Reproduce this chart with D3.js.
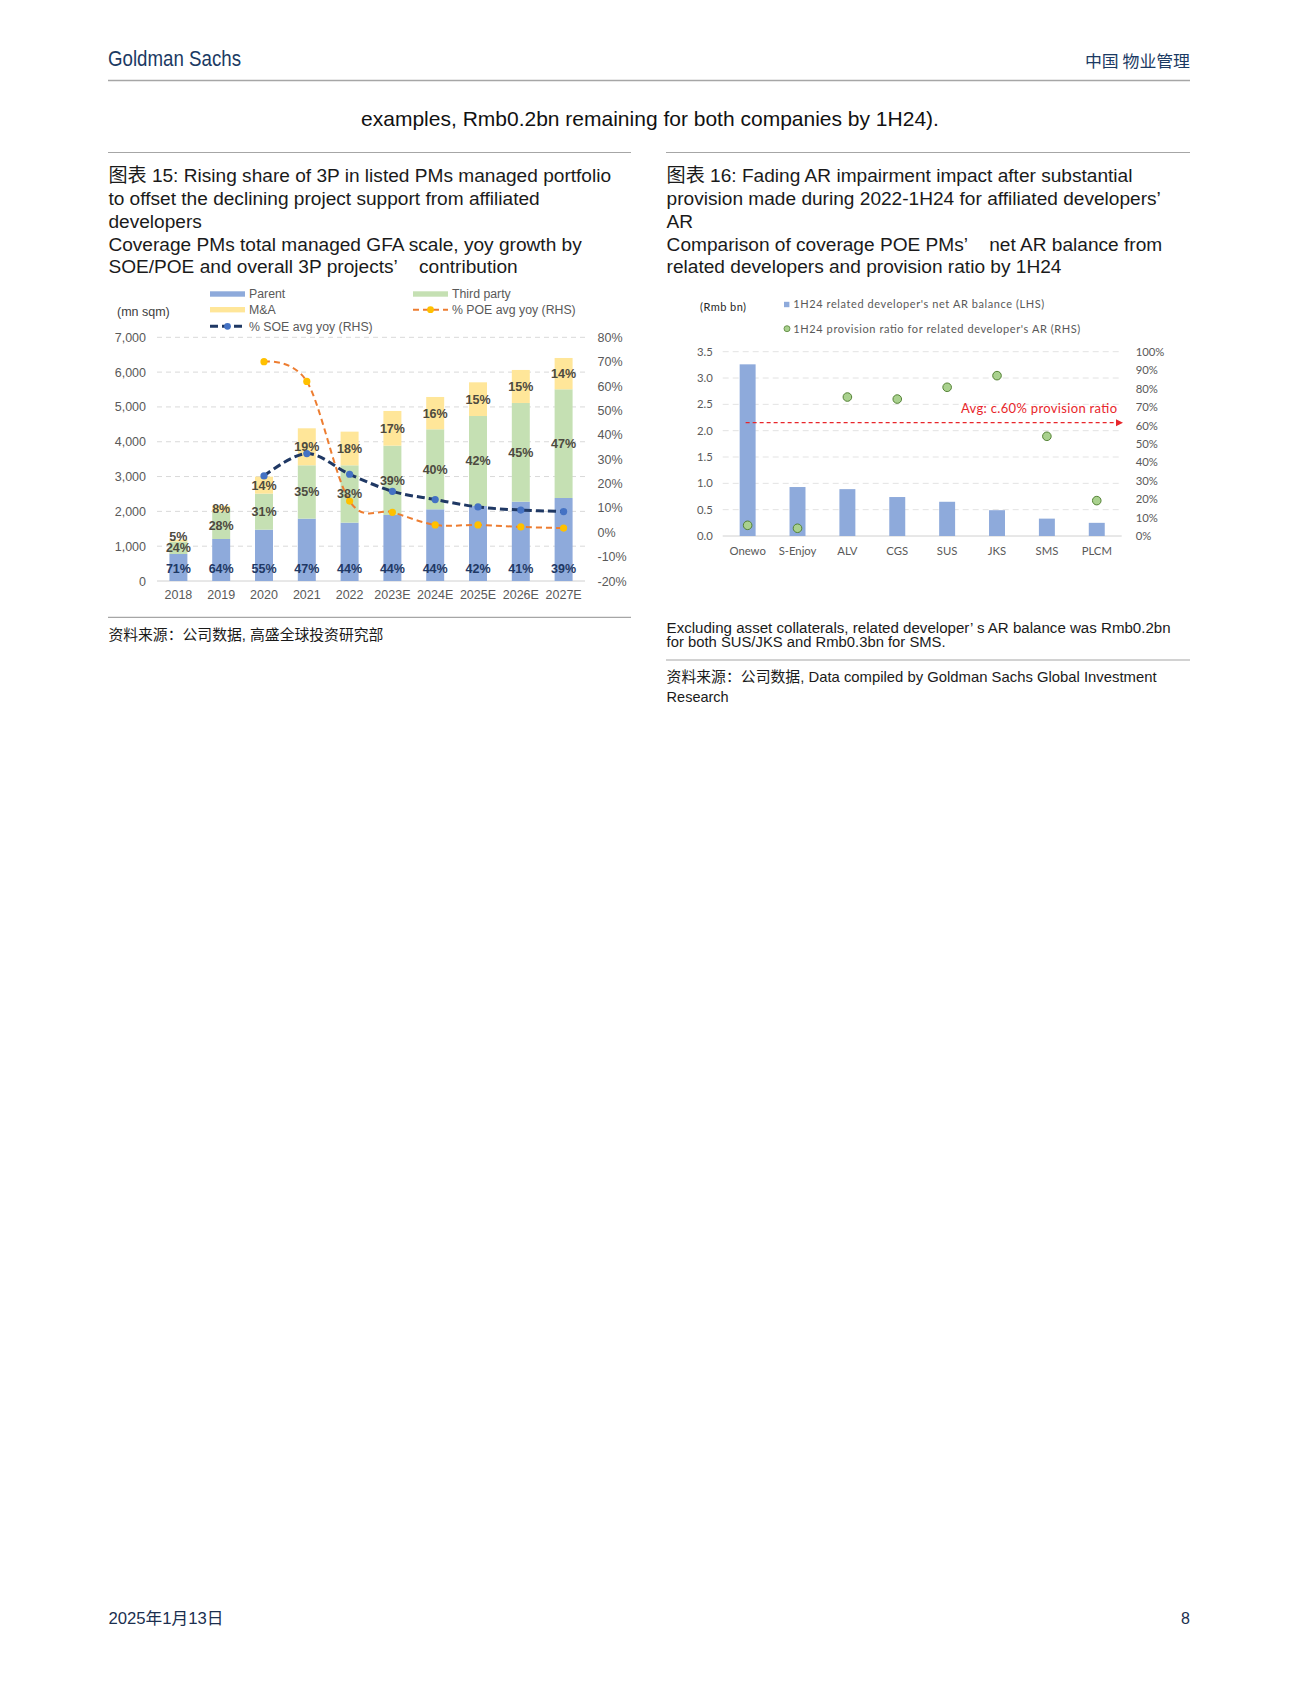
<!DOCTYPE html>
<html><head><meta charset="utf-8">
<script src="https://cdn.jsdelivr.net/npm/d3@7"></script>
<style>
body{margin:0;background:#fff}
svg{display:block}
text{font-family:"Liberation Sans",Arial,"Noto Sans CJK SC",sans-serif}
</style>
</head><body>
<svg id="page" width="1300" height="1683"></svg>
<script>
// ---------- Chart 15 data ----------
const years = ["2018","2019","2020","2021","2022","2023E","2024E","2025E","2026E","2027E"];
const parentGFA = [776,1207,1475,1791,1676,1896,2059,2155,2279,2384];
const thirdPartyGFA = [354,785,1034,1532,1647,1992,2298,2585,2835,3122];
const maGFA = [60,163,488,1063,967,996,929,967,948,900];
const parentPct = [71,64,55,47,44,44,44,42,41,39];
const thirdPartyPct = [24,28,31,35,38,39,40,42,45,47];
const maPct = [5,8,14,19,18,17,16,15,15,14];
const soeYoy = [null,null,23.1,32.3,23.8,16.8,13.4,10.4,9.1,8.5];
const poeYoy = [null,null,70.0,61.9,12.8,8.2,3.0,3.0,2.2,1.7];
const gfaTicks = [0,1000,2000,3000,4000,5000,6000,7000];
const yoyTicks = [-20,-10,0,10,20,30,40,50,60,70,80];

// ---------- Chart 16 data ----------
const companies = ["Onewo","S-Enjoy","ALV","CGS","SUS","JKS","SMS","PLCM"];
const arBalance = [3.26,0.93,0.89,0.74,0.65,0.49,0.33,0.25];
const provisionRatio = [5.8,4.2,75.4,74.3,80.7,87.0,54.1,19.2];
const avgProvisionLine = 61.5;
const arTicks = [0,0.5,1.0,1.5,2.0,2.5,3.0,3.5];
const ratioTicks = [0,10,20,30,40,50,60,70,80,90,100];

const svg = d3.select("#page");

function txt(g, x, y, s, o = {}) {
  const t = g.append("text").attr("x", x).attr("y", y).attr("dy", o.dy || "0.35em")
    .attr("font-size", o.size || 14).attr("fill", o.fill || "#222")
    .attr("text-anchor", o.anchor || "start").text(s);
  if (o.family) t.style("font-family", o.family);
  if (o.weight) t.attr("font-weight", o.weight);
  if (o.len) t.attr("textLength", o.len).attr("lengthAdjust", o.adjust || "spacingAndGlyphs");
  return t;
}

// ---------- Page header ----------
txt(svg, 108, 58, "Goldman Sachs", {size: 22, fill: "#1b3a63", len: 133, family: '"Liberation Sans Narrow","Liberation Sans",sans-serif'});
txt(svg, 1190, 61, "中国 物业管理", {size: 16, fill: "#1b3a63", anchor: "end", family: '"Noto Sans CJK SC",sans-serif', len: 105});
svg.append("line").attr("x1", 108).attr("x2", 1190).attr("y1", 80.5).attr("y2", 80.5).attr("stroke", "#a6a6a6").attr("stroke-width", 1.5);
txt(svg, 650, 119, "examples, Rmb0.2bn remaining for both companies by 1H24).", {size: 21, anchor: "middle", fill: "#111"});

// section rules
svg.append("line").attr("x1", 108).attr("x2", 631).attr("y1", 152.5).attr("y2", 152.5).attr("stroke", "#a6a6a6").attr("stroke-width", 1.2);
svg.append("line").attr("x1", 666).attr("x2", 1190).attr("y1", 152.5).attr("y2", 152.5).attr("stroke", "#a6a6a6").attr("stroke-width", 1.2);

const titleYs = [175, 198.6, 221.1, 244.8, 266.2];
const NB = "\u00a0";
function titleBlock(x, lines) {
  lines.forEach((l, i) => {
    svg.append("text").attr("x", x).attr("y", titleYs[i]).attr("dy", "0.35em")
      .attr("font-size", 19.1).attr("fill", "#1a1a1a")
      .text(l.replace(/’ /g, "’" + NB + NB + NB + " "));
  });
}
titleBlock(108.4, [
  "图表 15: Rising share of 3P in listed PMs managed portfolio",
  "to offset the declining project support from affiliated",
  "developers",
  "Coverage PMs total managed GFA scale, yoy growth by",
  "SOE/POE and overall 3P projects’ contribution"
]);
titleBlock(666.6, [
  "图表 16: Fading AR impairment impact after substantial",
  "provision made during 2022-1H24 for affiliated developers’",
  "AR",
  "Comparison of coverage POE PMs’ net AR balance from",
  "related developers and provision ratio by 1H24"
]);

// ---------- Chart 15 ----------
(function () {
  const g = svg.append("g");
  const x = d3.scaleBand().domain(years).range([157, 585]).paddingInner(0.58).paddingOuter(0.29);
  const yL = d3.scaleLinear().domain([0, 7000]).range([581, 337.3]);
  const yR = d3.scaleLinear().domain([-20, 80]).range([581, 337.3]);
  const C = {parent: "#8eaadb", tp: "#c5e0b3", ma: "#ffe699", soe: "#1f3864", soeM: "#4472c4", poe: "#ed7d31", poeM: "#ffc000"};
  const AF = '"Liberation Sans",Arial,sans-serif';

  gfaTicks.forEach(v => {
    g.append("line").attr("x1", 157).attr("x2", 585).attr("y1", yL(v)).attr("y2", yL(v))
      .attr("stroke", v === 0 ? "#d0d0d0" : "#d9d9d9").attr("stroke-width", 1)
      .attr("stroke-dasharray", v === 0 ? null : "5,4");
  });
  const axL = g.append("g").attr("transform", "translate(157,0)")
    .call(d3.axisLeft(yL).tickValues(gfaTicks).tickFormat(d3.format(",")).tickSize(0).tickPadding(11));
  axL.select(".domain").remove();
  axL.selectAll("text").attr("font-size", 12.5).attr("fill", "#595959").style("font-family", AF);
  const axR = g.append("g").attr("transform", "translate(585,0)")
    .call(d3.axisRight(yR).tickValues(yoyTicks).tickFormat(d => d + "%").tickSize(0).tickPadding(12.5));
  axR.select(".domain").remove();
  axR.selectAll("text").attr("font-size", 12.5).attr("fill", "#595959").style("font-family", AF);
  const axX = g.append("g").attr("transform", "translate(0,581)")
    .call(d3.axisBottom(x).tickSize(0).tickPadding(9));
  axX.select(".domain").remove();
  axX.selectAll("text").attr("font-size", 12.5).attr("fill", "#595959").style("font-family", AF);

  const rows = years.map((yr, i) => ({yr, i, p: parentGFA[i], t: thirdPartyGFA[i], m: maGFA[i]}));
  rows.forEach(r => {
    const x0 = x(r.yr), w = x.bandwidth();
    const b1 = r.p, b2 = r.p + r.t, b3 = r.p + r.t + r.m;
    g.append("rect").attr("x", x0).attr("width", w).attr("y", yL(b1)).attr("height", yL(0) - yL(b1)).attr("fill", C.parent);
    g.append("rect").attr("x", x0).attr("width", w).attr("y", yL(b2)).attr("height", yL(b1) - yL(b2)).attr("fill", C.tp);
    g.append("rect").attr("x", x0).attr("width", w).attr("y", yL(b3)).attr("height", yL(b2) - yL(b3)).attr("fill", C.ma);
  });

  const cx = yr => x(yr) + x.bandwidth() / 2;
  function series(vals, stroke, sw, dash, mk) {
    const pts = years.map((yr, i) => [cx(yr), vals[i]]).filter(d => d[1] != null);
    const line = d3.line().x(d => d[0]).y(d => yR(d[1])).curve(d3.curveCatmullRom.alpha(0));
    g.append("path").attr("d", line(pts)).attr("fill", "none").attr("stroke", stroke)
      .attr("stroke-width", sw).attr("stroke-dasharray", dash);
    pts.forEach(d => g.append("circle").attr("cx", d[0]).attr("cy", yR(d[1])).attr("r", 3.6).attr("fill", mk));
  }
  series(poeYoy, C.poe, 2, "6,4", C.poeM);
  series(soeYoy, C.soe, 3, "8,4", C.soeM);

  rows.forEach(r => {
    const X = cx(r.yr);
    const pY = yL(0) - 12.3;
    let tY = (yL(r.p) + yL(r.p + r.t)) / 2;
    tY = Math.min(tY, pY - 11);
    let mY = (yL(r.p + r.t) + yL(r.p + r.t + r.m)) / 2;
    mY = Math.min(mY, tY - 11);
    txt(g, X, pY, parentPct[r.i] + "%", {size: 12.5, weight: "bold", anchor: "middle", fill: "#1f3864", family: AF});
    txt(g, X, tY, thirdPartyPct[r.i] + "%", {size: 12.5, weight: "bold", anchor: "middle", fill: "#4d4a3f", family: AF});
    txt(g, X, mY, maPct[r.i] + "%", {size: 12.5, weight: "bold", anchor: "middle", fill: "#4d4a3f", family: AF});
  });

  txt(g, 117, 311.3, "(mn sqm)", {size: 12.5, fill: "#404040"});
  const lg = [
    {x: 210, y: 294, type: "rect", c: C.parent, t: "Parent"},
    {x: 210, y: 309.7, type: "rect", c: C.ma, t: "M&A"},
    {x: 210, y: 326.3, type: "line", c: C.soe, m: C.soeM, sw: 3, dash: "8,4", t: "% SOE avg yoy (RHS)"},
    {x: 413, y: 294, type: "rect", c: C.tp, t: "Third party"},
    {x: 413, y: 309.7, type: "line", c: C.poe, m: C.poeM, sw: 2, dash: "6,4", t: "% POE avg yoy (RHS)"}
  ];
  lg.forEach(d => {
    if (d.type === "rect") {
      g.append("rect").attr("x", d.x).attr("y", d.y - 2.7).attr("width", 35).attr("height", 5.4).attr("fill", d.c);
    } else {
      g.append("line").attr("x1", d.x).attr("x2", d.x + 35).attr("y1", d.y).attr("y2", d.y)
        .attr("stroke", d.c).attr("stroke-width", d.sw).attr("stroke-dasharray", d.dash);
      g.append("circle").attr("cx", d.x + 17.5).attr("cy", d.y).attr("r", 3.4).attr("fill", d.m);
    }
    txt(g, d.x + 39, d.y, d.t, {size: 12.3, fill: "#595959"});
  });
})();

// ---------- Chart 16 ----------
(function () {
  const g = svg.append("g");
  const F = 'Lato,"Open Sans",sans-serif';
  const x = d3.scaleBand().domain(companies).range([722.7, 1121.7]).paddingInner(0.68).paddingOuter(0.34);
  const yL = d3.scaleLinear().domain([0, 3.5]).range([536, 351.7]);
  const yR = d3.scaleLinear().domain([0, 100]).range([536, 351.7]);

  arTicks.forEach(v => {
    g.append("line").attr("x1", 722.7).attr("x2", 1121.7).attr("y1", yL(v)).attr("y2", yL(v))
      .attr("stroke", v === 0 ? "#d0d0d0" : "#e3e3e3").attr("stroke-width", 1)
      .attr("stroke-dasharray", v === 0 ? null : "6,4");
  });
  const axL = g.append("g").attr("transform", "translate(722.7,0)")
    .call(d3.axisLeft(yL).tickValues(arTicks).tickFormat(d3.format(".1f")).tickSize(0).tickPadding(10));
  axL.select(".domain").remove();
  axL.selectAll("text").attr("font-size", 11.3).attr("fill", "#595959").style("font-family", F);
  const axR = g.append("g").attr("transform", "translate(1121.7,0)")
    .call(d3.axisRight(yR).tickValues(ratioTicks).tickFormat(d => d + "%").tickSize(0).tickPadding(14));
  axR.select(".domain").remove();
  axR.selectAll("text").attr("font-size", 11.3).attr("fill", "#595959").style("font-family", F);
  const axX = g.append("g").attr("transform", "translate(0,536)")
    .call(d3.axisBottom(x).tickSize(0).tickPadding(11));
  axX.select(".domain").remove();
  axX.selectAll("text").attr("font-size", 11.3).attr("fill", "#595959").style("font-family", F);

  companies.forEach((c, i) => {
    g.append("rect").attr("x", x(c)).attr("width", x.bandwidth()).attr("y", yL(arBalance[i]))
      .attr("height", yL(0) - yL(arBalance[i])).attr("fill", "#8eaadb");
  });
  companies.forEach((c, i) => {
    g.append("circle").attr("cx", x(c) + x.bandwidth() / 2).attr("cy", yR(provisionRatio[i])).attr("r", 4.3)
      .attr("fill", "#a9d18e").attr("stroke", "#548235").attr("stroke-width", 1);
  });

  const ay = yR(avgProvisionLine);
  const xs = x(companies[0]) + x.bandwidth() / 2 - 2, xe = 1116;
  g.append("line").attr("x1", xs).attr("x2", xe).attr("y1", ay).attr("y2", ay)
    .attr("stroke", "#e8262b").attr("stroke-width", 1.2).attr("stroke-dasharray", "4,3");
  g.append("path").attr("d", `M${xe},${ay - 3.5} L${xe + 7},${ay} L${xe},${ay + 3.5} Z`).attr("fill", "#e8262b");
  txt(g, 1117, ay - 14.5, "Avg: c.60% provision ratio", {size: 13, fill: "#e8262b", anchor: "end", family: F, len: 156, adjust: "spacing"});

  txt(g, 700, 306.7, "(Rmb bn)", {size: 11, fill: "#262626", family: F, len: 46, adjust: "spacing"});
  g.append("rect").attr("x", 784).attr("y", 301.8).attr("width", 5.4).attr("height", 5.4).attr("fill", "#8eaadb");
  txt(g, 793.3, 304.6, "1H24 related developer's net AR balance (LHS)", {size: 11, fill: "#595959", family: F, len: 251, adjust: "spacing"});
  g.append("circle").attr("cx", 787).attr("cy", 328.7).attr("r", 3).attr("fill", "#a9d18e").attr("stroke", "#548235").attr("stroke-width", 0.8);
  txt(g, 793.3, 328.7, "1H24 provision ratio for related developer's AR (RHS)", {size: 11, fill: "#595959", family: F, len: 287, adjust: "spacing"});
})();

// ---------- Notes & sources ----------
svg.append("line").attr("x1", 108).attr("x2", 631).attr("y1", 617.3).attr("y2", 617.3).attr("stroke", "#a6a6a6").attr("stroke-width", 1.2);
txt(svg, 108.4, 634.5, "资料来源：公司数据, 高盛全球投资研究部", {size: 14.5, fill: "#1a1a1a", len: 275});

txt(svg, 666.6, 628, "Excluding asset collaterals, related developer’ s AR balance was Rmb0.2bn", {size: 14, fill: "#1a1a1a", len: 504});
txt(svg, 666.6, 642, "for both SUS/JKS and Rmb0.3bn for SMS.", {size: 14, fill: "#1a1a1a", len: 279});
svg.append("line").attr("x1", 666).attr("x2", 1190).attr("y1", 660).attr("y2", 660).attr("stroke", "#a6a6a6").attr("stroke-width", 1.2);
txt(svg, 666.6, 677, "资料来源：公司数据, Data compiled by Goldman Sachs Global Investment", {size: 14.5, fill: "#1a1a1a", len: 490});
txt(svg, 666.6, 697, "Research", {size: 14.5, fill: "#1a1a1a"});

// ---------- Footer ----------
txt(svg, 108.4, 1618, "2025年1月13日", {size: 16, fill: "#1b2f4f", len: 115});
txt(svg, 1190, 1618, "8", {size: 16, fill: "#1b2f4f", anchor: "end"});
</script>
</body></html>
